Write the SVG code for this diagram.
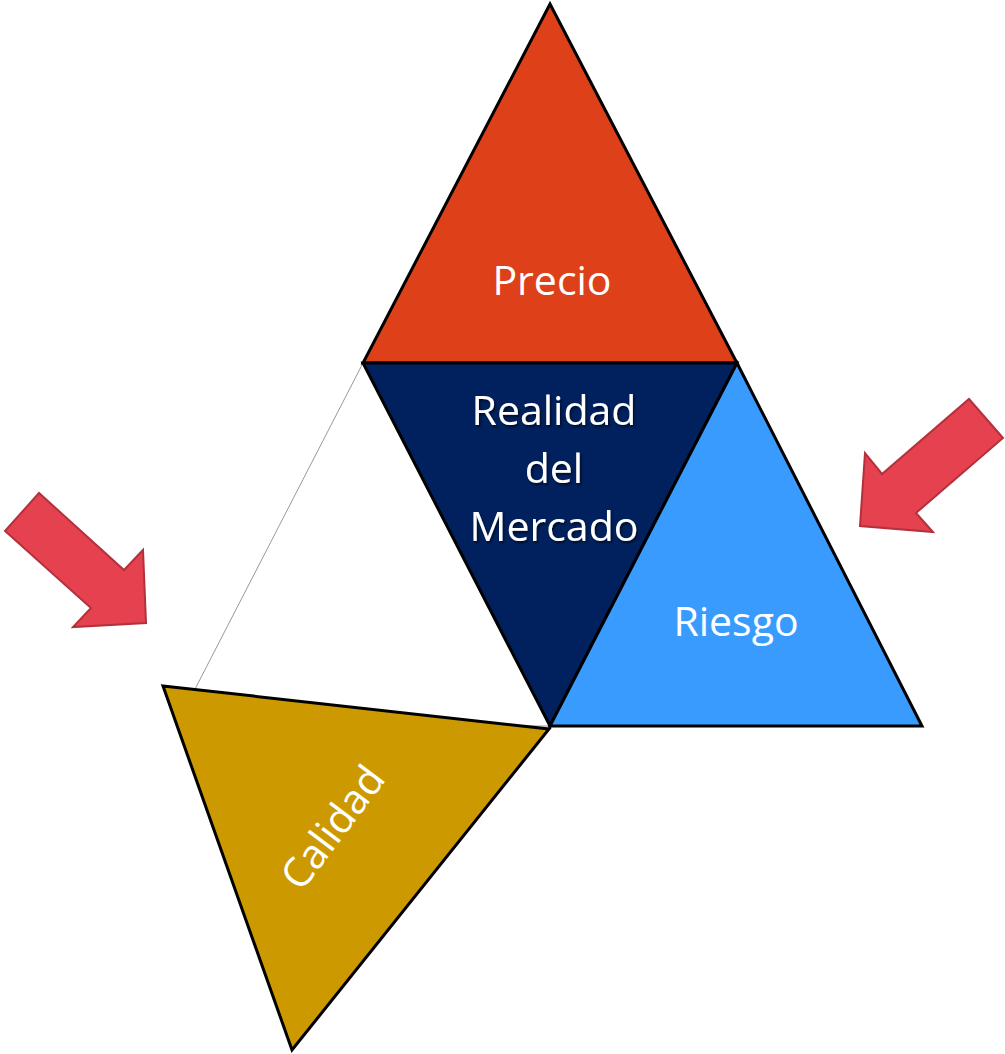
<svg xmlns="http://www.w3.org/2000/svg" width="1005" height="1054" viewBox="0 0 1005 1054">
<style>
.tri{stroke:#000;stroke-width:3;stroke-linejoin:miter}
.lbl{font-family:"Open Sans","DejaVu Sans",sans-serif;font-size:41px;fill:#fff;text-anchor:middle}
.arrow{fill:#E5414F;stroke:#B3313D;stroke-width:2;stroke-linejoin:miter}
</style>
<defs>
<filter id="sh" x="-10%" y="-10%" width="120%" height="130%">
<feDropShadow dx="1.5" dy="2" stdDeviation="1" flood-color="#000" flood-opacity="0.6"/>
</filter>
</defs>
<rect width="1005" height="1054" fill="#fff"/>
<g id="blank">
<polygon points="363,363 176,726 550,726" fill="#fff" stroke="#999" stroke-width="1"/>
</g>
<g id="precio">
<polygon class="tri" points="550,4 737,363 363,363" fill="#DE411A"/>
<text class="lbl" x="552" y="295">Precio</text>
</g>
<g id="mercado">
<polygon class="tri" points="363,363 737,363 550,726" fill="#00215E"/>
<g filter="url(#sh)">
<text class="lbl" x="554" y="425">Realidad</text>
<text class="lbl" x="554" y="483">del</text>
<text class="lbl" x="554" y="541">Mercado</text>
</g>
</g>
<g id="riesgo">
<polygon class="tri" points="737,363 922,726 550,726" fill="#3A9BFF"/>
<text class="lbl" x="736" y="636">Riesgo</text>
</g>
<g id="calidad">
<polygon class="tri" points="163,686 549,729 292,1050" fill="#CC9900"/>
<text class="lbl" transform="translate(344,836) rotate(-53)" x="0" y="0">Calidad</text>
</g>
<g id="connectors">
<polygon id="arrow-left" class="arrow" points="5,531 39,493 124,570 143,550 146,623 73,627 91,608"/>
<polygon id="arrow-right" class="arrow" points="969,399 1003,438 916,513 933,532 860,526 865,453 882,474"/>
</g>
</svg>
